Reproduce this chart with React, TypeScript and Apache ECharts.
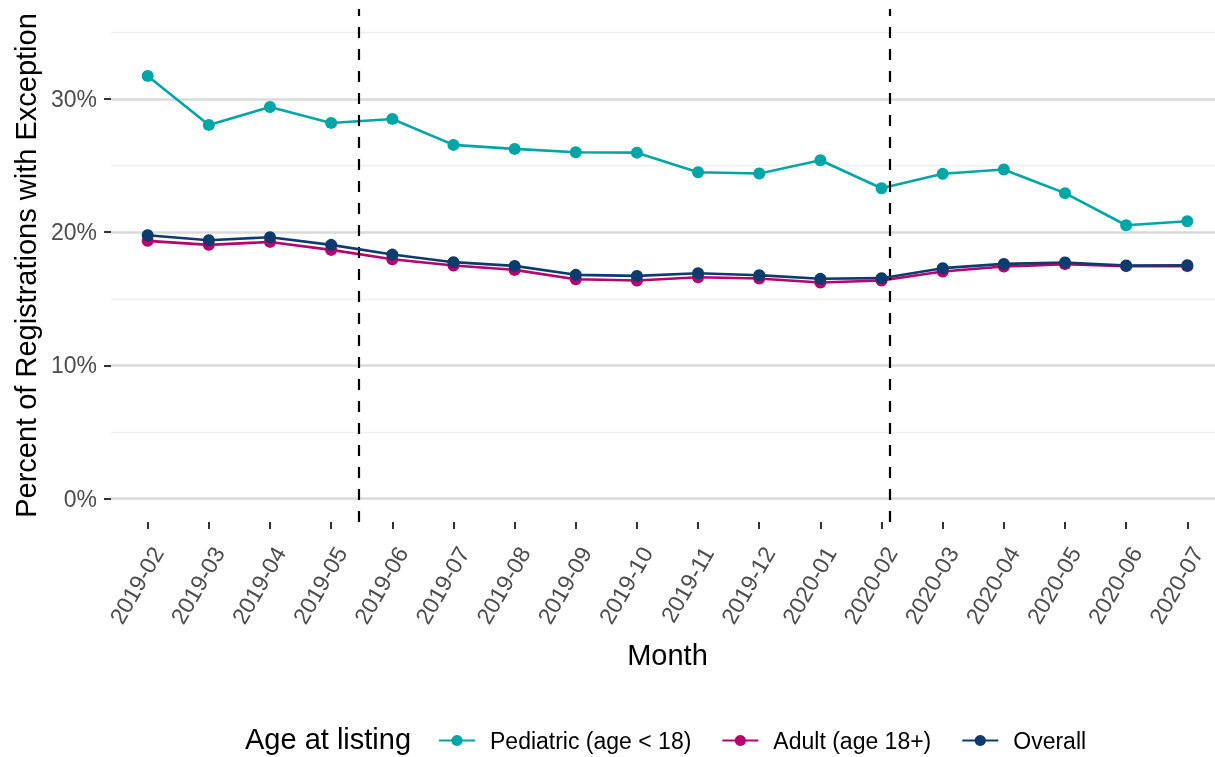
import React, { useEffect, useRef } from "react";
import * as echarts from "echarts";

const months = [
  "2019-02", "2019-03", "2019-04", "2019-05", "2019-06", "2019-07", "2019-08", "2019-09", "2019-10",
  "2019-11", "2019-12", "2020-01", "2020-02", "2020-03", "2020-04", "2020-05", "2020-06", "2020-07",
];
const pediatric = [31.73, 28.05, 29.4, 28.2, 28.5, 26.55, 26.25, 26.0, 25.97, 24.5, 24.4, 25.4, 23.3, 24.38, 24.7, 22.93, 20.52, 20.82];
const adult = [19.35, 19.05, 19.27, 18.67, 17.97, 17.5, 17.17, 16.47, 16.37, 16.62, 16.52, 16.22, 16.37, 17.05, 17.42, 17.6, 17.45, 17.45];
const overall = [19.77, 19.4, 19.62, 19.05, 18.32, 17.75, 17.47, 16.8, 16.72, 16.92, 16.77, 16.5, 16.55, 17.3, 17.62, 17.72, 17.5, 17.52];
const seriesNames = ["Pediatric (age < 18)", "Adult (age 18+)", "Overall"];
const colors = ["#00A6A6", "#B8006E", "#0C3C6E"];
const vlinePositions = [3.45, 12.13];
const majorTicks = [0, 10, 20, 30];
const minorTicks = [5, 15, 25, 35];
const monthIdx = months.map((_, i) => i);

export default function App() {
  const ref = useRef<HTMLDivElement>(null);
  useEffect(() => {
    if (!ref.current) return;
    const chart = echarts.init(ref.current, null, { renderer: "svg" });
    const font = "'Liberation Sans', Arial, Helvetica, sans-serif";
    const all = [pediatric, adult, overall];
    chart.setOption({
      animation: false,
      textStyle: { fontFamily: font },
      grid: { left: 111, top: 9, width: 1113, height: 513, containLabel: false, outerBoundsMode: "none" },
      xAxis: {
        type: "value",
        min: -0.6,
        max: 17.6,
        name: "Month",
        nameLocation: "middle",
        nameGap: 118,
        nameTextStyle: { fontSize: 29, color: "#000", fontFamily: font },
        axisLine: { show: false, onZero: false },
        splitLine: { show: false },
        axisTick: { show: true, customValues: monthIdx, length: 7, lineStyle: { color: "#333", width: 2 } },
        axisLabel: {
          customValues: monthIdx,
          rotate: 60,
          fontSize: 23,
          color: "#4D4D4D",
          margin: 21,
          verticalAlign: "top",
          fontFamily: font,
          formatter: (v: number) => months[Math.round(v)] ?? "",
        },
      },
      yAxis: [
        {
          type: "value",
          min: -1.75,
          max: 36.75,
          name: "Percent of Registrations with Exception",
          nameLocation: "middle",
          nameGap: 69,
          nameTextStyle: { fontSize: 29, color: "#000", fontFamily: font },
          axisLine: { show: false, onZero: false },
          axisTick: { show: true, customValues: majorTicks, length: 7, lineStyle: { color: "#333", width: 2 } },
          axisLabel: {
            customValues: majorTicks,
            fontSize: 23,
            color: "#4D4D4D",
            margin: 14,
            fontFamily: font,
            formatter: (v: number) => `${v}%`,
          },
          splitLine: { show: true, lineStyle: { color: "#DADADA", width: 2.5 } },
        },
        {
          type: "value",
          min: -1.75,
          max: 36.75,
          position: "left",
          axisLine: { show: false, onZero: false },
          axisTick: { show: false, customValues: minorTicks },
          axisLabel: { show: false, customValues: minorTicks },
          splitLine: { show: true, lineStyle: { color: "#EFEFEF", width: 1.3 } },
        },
      ],
      legend: {
        left: 433,
        top: 724,
        itemWidth: 36,
        itemHeight: 14,
        itemGap: 30,
        data: seriesNames,
        textStyle: { fontSize: 23, color: "#000", fontFamily: font, padding: [0, 0, 0, 10] },
      },
      graphic: [
        {
          type: "text",
          left: 245,
          top: 741 - 17,
          style: { text: "Age at listing", fontSize: 29, fill: "#000", fontFamily: font },
        },
      ],
      series: all.map((vals, si) => ({
        name: seriesNames[si],
        type: "line",
        data: vals.map((v, i) => [i, v]),
        symbol: "circle",
        symbolSize: 12,
        showSymbol: true,
        itemStyle: { color: colors[si] },
        lineStyle: { color: colors[si], width: 2.6 },
        emphasis: { disabled: true },
        z: 3 + si,
        ...(si === 0
          ? {
              markLine: {
                silent: true,
                symbol: "none",
                label: { show: false },
                lineStyle: { color: "#000", type: [11, 11], width: 2.2 },
                data: vlinePositions.map((x) => ({ xAxis: x })),
              },
            }
          : {}),
      })),
    });
    return () => chart.dispose();
  }, []);
  return <div ref={ref} style={{ position: "fixed", left: 0, top: 0, width: 1215, height: 757 }} />;
}
